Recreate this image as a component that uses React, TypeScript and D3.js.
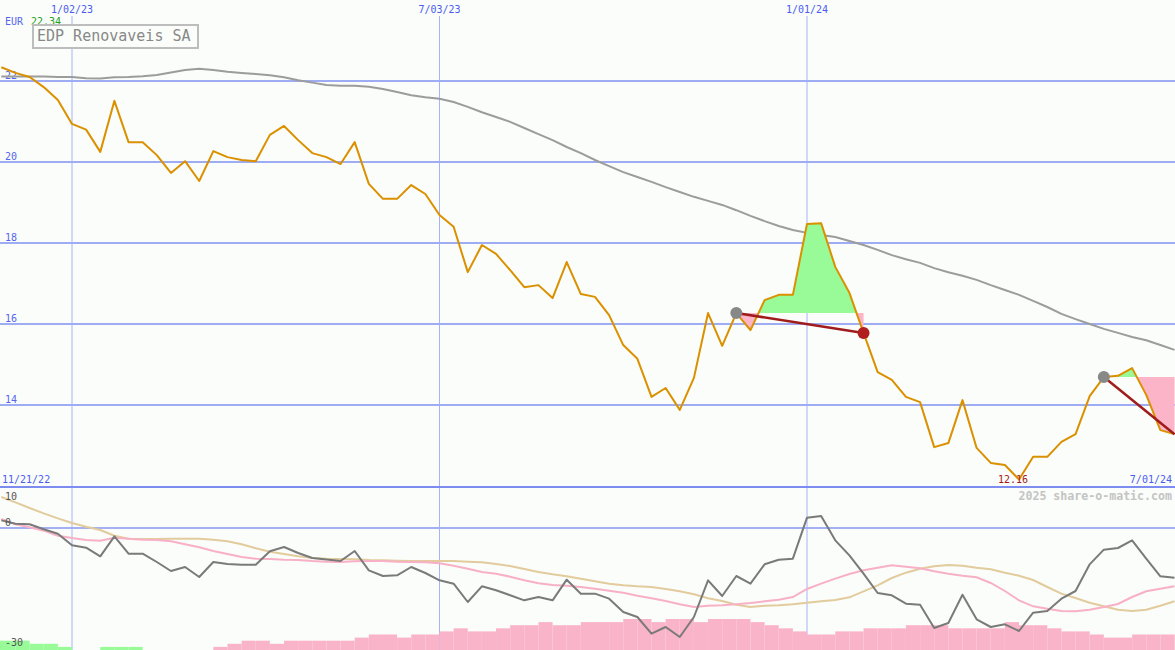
import { useEffect } from 'react'
import * as d3 from 'd3'

const W = 1175
const H = 650
const BG = '#fafdf9'

// weekly closes, Mondays 11/28/22 .. 7/01/24
const weeks = d3.timeMonday.range(new Date(2022, 10, 28), new Date(2024, 6, 2))

const price = [
  22.34, 22.2, 22.1, 21.85, 21.53, 20.94, 20.8, 20.25, 21.51, 20.49,
  20.49, 20.17, 19.73, 20.02, 19.53, 20.27, 20.12, 20.05, 20.02, 20.67,
  20.89, 20.54, 20.22, 20.12, 19.95, 20.49, 19.46, 19.09, 19.09, 19.43,
  19.21, 18.69, 18.4, 17.28, 17.95, 17.73, 17.33, 16.91, 16.96, 16.64,
  17.53, 16.74, 16.67, 16.22, 15.48, 15.14, 14.2, 14.42, 13.88, 14.67,
  16.27, 15.46, 16.27, 15.85, 16.59, 16.72, 16.72, 18.47, 18.49, 17.41,
  16.77, 15.78, 14.81, 14.62, 14.2, 14.07, 12.96, 13.06, 14.12, 12.94,
  12.57, 12.52, 12.16, 12.72, 12.72, 13.09, 13.28, 14.22, 14.69, 14.72,
  14.91, 14.25, 13.38, 13.28,
]

// long moving average (grey)
const movingAvg = [
  22.11, 22.11, 22.11, 22.11, 22.1, 22.1, 22.07, 22.06, 22.09, 22.1,
  22.12, 22.15, 22.21, 22.27, 22.3, 22.27, 22.23, 22.2, 22.17, 22.14,
  22.09, 22.02, 21.96, 21.9, 21.88, 21.88, 21.86, 21.8, 21.73, 21.65,
  21.6, 21.56, 21.48, 21.36, 21.23, 21.11, 20.99, 20.84, 20.69, 20.54,
  20.37, 20.22, 20.05, 19.9, 19.75, 19.63, 19.51, 19.38, 19.26, 19.14,
  19.04, 18.94, 18.81, 18.67, 18.54, 18.42, 18.32, 18.25, 18.2, 18.15,
  18.05, 17.95, 17.83, 17.7, 17.6, 17.51, 17.38, 17.28, 17.19, 17.09,
  16.96, 16.84, 16.72, 16.57, 16.42, 16.25, 16.12, 16.0, 15.88, 15.78,
  15.68, 15.6, 15.48, 15.36,
]

// lower panel: momentum (grey) and its two averages
const momentum = [
  1.9, 1.05, 0.92, -0.3, -1.42, -4.33, -4.92, -7.08, -2.08, -6.42,
  -6.42, -8.5, -10.75, -9.75, -12.25, -8.5, -9.0, -9.17, -9.17, -5.83,
  -4.75, -6.25, -7.5, -7.9, -8.25, -5.75, -10.58, -12, -11.83, -9.75,
  -11.25, -13.08, -13.92, -18.5, -14.58, -15.58, -16.8, -18.08, -17.25, -18.08,
  -12.92, -16.42, -16.42, -17.67, -21, -22.25, -26.42, -24.75, -27.25, -22.25,
  -13.08, -17, -12, -13.92, -9.08, -7.92, -7.67, 2.58, 3.0, -3.08,
  -6.83, -11.42, -16.25, -16.83, -18.92, -19.17, -25, -23.75, -16.67, -22.83,
  -24.75, -24.08, -25.75, -21.17, -20.75, -17.67, -15.75, -9.08, -5.42, -5,
  -3.08, -7.67, -12.08, -12.42,
]

const momFast = [
  2.25, 0.92, 0.17, -0.67, -1.92, -2.5, -3, -3.17, -2.42, -2.67,
  -2.92, -3, -3.33, -4.08, -4.83, -5.75, -6.5, -7.25, -7.67, -7.75,
  -7.92, -8, -8.25, -8.42, -8.5, -8.33, -8.25, -8.25, -8.42, -8.5,
  -8.58, -8.83, -9.42, -10.17, -11, -11.42, -12.17, -13.08, -13.83, -14.25,
  -14.42, -14.75, -15.17, -15.67, -16.17, -16.92, -17.58, -18.25, -19.08, -19.75,
  -19.42, -19.33, -19.08, -18.75, -18.33, -17.92, -17.25, -15.25, -13.92, -12.67,
  -11.5, -10.58, -9.92, -9.33, -9.67, -10.08, -10.83, -11.42, -11.92, -12.33,
  -13.75, -15.75, -18.08, -19.58, -20.17, -20.75, -20.83, -20.42, -19.75, -19,
  -17.25, -15.83, -15.17, -14.58,
]

const momSlow = [
  7.75, 6.42, 5, 3.67, 2.42, 1.25, 0.33, -0.5, -1.92, -2.67,
  -2.75, -2.75, -2.67, -2.67, -2.67, -2.92, -3.33, -4.08, -5.08, -5.92,
  -6.5, -7.08, -7.5, -7.67, -7.75, -7.83, -8, -8.08, -8.17, -8.25,
  -8.25, -8.25, -8.25, -8.42, -8.58, -9, -9.5, -10.25, -11, -11.58,
  -12.08, -12.67, -13.33, -13.92, -14.33, -14.58, -14.75, -15.25, -15.83, -16.58,
  -17.58, -18.25, -19.17, -19.75, -19.42, -19.33, -19.08, -18.67, -18.33, -18,
  -17.33, -15.83, -14.33, -12.5, -11.17, -10.17, -9.58, -9.25, -9.42, -9.92,
  -10.33, -11.17, -11.92, -13, -14.75, -16.42, -17.5, -18.67, -19.58, -20.42,
  -20.75, -20.42, -19.42, -18.33,
]

// histogram levels at the bottom (+ green, - pink)
const hist = [
  3, 3, 2, 2, 1, 0, 0, 1, 1, 1,
  0, 0, 0, 0, 0, -1, -2, -3, -3, -2,
  -3, -3, -3, -3, -3, -4, -5, -5, -4, -5,
  -5, -6, -7, -6, -6, -7, -8, -8, -9, -8,
  -8, -9, -9, -9, -10, -10, -9, -10, -10, -9,
  -10, -10, -10, -9, -8, -7, -6, -5, -5, -6,
  -6, -7, -7, -7, -8, -8, -8, -7, -7, -7,
  -7, -9, -8, -8, -7, -6, -6, -5, -4, -4,
  -5, -5, -5, -5,
]

const priceTicks = [14, 16, 18, 20, 22]
const momTicks = [10, 0, -30]
const dateTicks = ['2023-01-02', '2023-07-03', '2024-01-01']
const signalStarts = ['2023-11-27', '2024-05-27']
const signalEnds = ['2024-01-29', '2024-07-01']
const signalClosed = [true, false]

const parse = d3.timeParse('%Y-%m-%d')
const fmt = d3.timeFormat('%-m/%d/%y')

export default function App() {
  useEffect(() => {
    document.body.style.margin = '0'
  }, [])

  const x = d3
    .scaleTime()
    .domain([parse('2023-01-02')!, parse('2024-01-01')!])
    .range([72, 807])
  const yP = d3.scaleLinear().domain([12, 22]).range([486, 81])
  const yM = d3.scaleLinear().domain([0, -30]).range([528, 648])
  const hH = d3.scaleLinear().domain([0, 10]).range([0, 31])

  const xi = (i: number) => x(weeks[i])
  const priceLine = d3.line<number>().x((_, i) => xi(i)).y((d) => yP(d))
  const momLine = d3.line<number>().x((_, i) => xi(i)).y((d) => yM(d))

  const idx = (s: string) => weeks.findIndex((w) => +w === +parse(s)!)
  const iMin = d3.minIndex(price)

  const signals = signalStarts.map((s, k) => {
    const i0 = idx(s)
    const i1 = idx(signalEnds[k])
    const level = price[i0]
    const seg = d3.range(i0, i1 + 1)
    const area = d3
      .area<number>()
      .x((i) => xi(i))
      .y0(yP(level))
      .y1((i) => yP(price[i]))(seg)
    return { i0, i1, level, area, closed: signalClosed[k] }
  })

  return (
    <svg
      width={W}
      height={H}
      style={{ position: 'absolute', left: 0, top: 0, background: BG }}
      fontFamily="'DejaVu Sans Mono', monospace"
    >
      <defs>
        <clipPath id="top">
          <rect x={0} y={0} width={W} height={487} />
        </clipPath>
        <clipPath id="bot">
          <rect x={0} y={488} width={W} height={H - 488} />
        </clipPath>
        {signals.map((s, k) => (
          <g key={k}>
            <clipPath id={`up${k}`}>
              <rect x={0} y={0} width={W} height={yP(s.level)} />
            </clipPath>
            <clipPath id={`dn${k}`}>
              <rect x={0} y={yP(s.level)} width={W} height={487 - yP(s.level)} />
            </clipPath>
          </g>
        ))}
      </defs>

      {/* grid */}
      {dateTicks.map((d) => (
        <g key={d}>
          <line x1={x(parse(d)!)} x2={x(parse(d)!)} y1={16} y2={H} stroke="#a8b2f6" strokeWidth={1} />
          <text x={x(parse(d)!)} y={13} textAnchor="middle" fontSize={10} fill="#4b5cf0">
            {fmt(parse(d)!)}
          </text>
        </g>
      ))}
      {priceTicks.map((p) => (
        <g key={p}>
          <line x1={0} x2={W} y1={yP(p)} y2={yP(p)} stroke="#9eacf3" strokeWidth={2} />
          <text x={5} y={yP(p) - 2} fontSize={10} fill="#5566ee">
            {p}
          </text>
        </g>
      ))}
      <line x1={0} x2={W} y1={yM(0)} y2={yM(0)} stroke="#a3b0f3" strokeWidth={2} />
      <line x1={0} x2={W} y1={487} y2={487} stroke="#7d8cf0" strokeWidth={2} />

      {/* price panel */}
      <g clipPath="url(#top)">
        <path d={priceLine(movingAvg)!} fill="none" stroke="#9c9c9c" strokeWidth={2} />
        {signals.map((s, k) => (
          <g key={k}>
            <path d={s.area!} fill="#98fb98" clipPath={`url(#up${k})`} />
            <path d={s.area!} fill="#fbb4c8" clipPath={`url(#dn${k})`} />
          </g>
        ))}
        <path d={priceLine(price)!} fill="none" stroke="#db9000" strokeWidth={2} strokeLinejoin="round" />
        {signals.map((s, k) => (
          <g key={k}>
            <line
              x1={xi(s.i0)}
              y1={yP(price[s.i0])}
              x2={xi(s.i1)}
              y2={yP(price[s.i1])}
              stroke="#a01c1c"
              strokeWidth={2.5}
            />
            <circle cx={xi(s.i0)} cy={yP(price[s.i0])} r={6} fill="#888" />
            {s.closed && <circle cx={xi(s.i1)} cy={yP(price[s.i1])} r={6} fill="#b01e1e" />}
          </g>
        ))}
      </g>

      {/* momentum panel */}
      <g clipPath="url(#bot)">
        {hist.map((v, i) => {
          if (v === 0) return null
          const x0 = i === 0 ? 0 : xi(i)
          const x1 = i < weeks.length - 1 ? xi(i + 1) : W
          const h = hH(Math.abs(v))
          return <rect key={i} x={x0} y={H - h} width={x1 - x0} height={h} fill={v > 0 ? '#98fb98' : '#fab4c9'} />
        })}
        <path d={momLine(momSlow)!} fill="none" stroke="#e2cb9c" strokeWidth={2} />
        <path d={momLine(momFast)!} fill="none" stroke="#f8b0c6" strokeWidth={2} />
        <path d={momLine(momentum)!} fill="none" stroke="#7a7a7a" strokeWidth={2} strokeLinejoin="round" />
      </g>
      {momTicks.map((v) => (
        <text key={v} x={5} y={Math.max(yM(v) - 2, 500)} fontSize={10} fill="#555">
          {v}
        </text>
      ))}

      {/* labels */}
      <text x={5} y={25} fontSize={10} fill="#5566ee">EUR</text>
      <text x={31} y={25} fontSize={10} fill="#22a022">
        {d3.max(price)!.toFixed(2)}
      </text>
      <rect x={33} y={25} width={165} height={23} fill={BG} stroke="#bdbdbd" strokeWidth={2} />
      <text x={37} y={41} fontSize={15} fill="#888">EDP Renovaveis SA</text>

      <text x={2} y={483} fontSize={10} fill="#4b5cf0">11/21/22</text>
      <text x={1172} y={483} fontSize={10} fill="#4b5cf0" textAnchor="end">
        {fmt(weeks[weeks.length - 1])}
      </text>
      <text x={xi(iMin) - 6} y={483} fontSize={10} fill="#a81818" textAnchor="middle">
        {price[iMin].toFixed(2)}
      </text>
      <text x={1172} y={500} fontSize={11.6} fontWeight="bold" fill="#c4c4c4" textAnchor="end">
        2025 share-o-matic.com
      </text>
    </svg>
  )
}
